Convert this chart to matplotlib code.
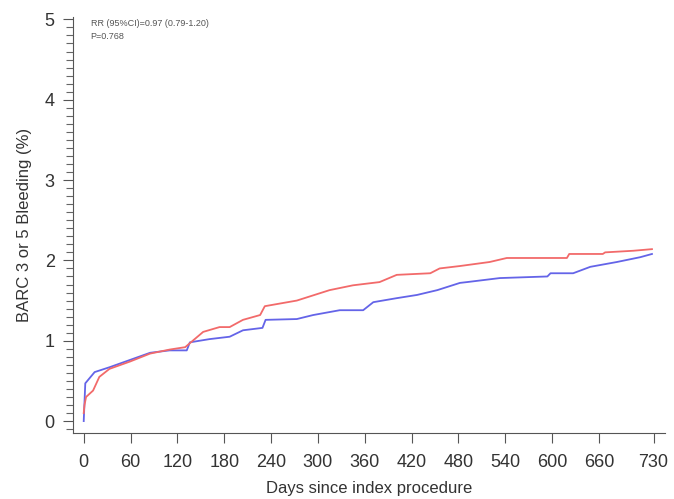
import matplotlib
matplotlib.use("Agg")
import matplotlib.pyplot as plt
from matplotlib.ticker import MultipleLocator

plt.rcParams['font.family'] = ['Liberation Sans', 'DejaVu Sans']

# Cumulative incidence (days, %)
blue_days = [0, 2, 14, 33, 59, 85, 110, 132, 136, 161, 187, 204, 229, 233, 273, 294,
             328, 358, 371, 401, 427, 453, 482, 491, 533, 594, 598, 627, 649, 683, 713, 728]
blue_pct = [0.0, 0.47, 0.61, 0.67, 0.76, 0.85, 0.88, 0.88, 0.98, 1.02, 1.05, 1.13, 1.16, 1.26, 1.27, 1.32,
            1.38, 1.38, 1.48, 1.53, 1.57, 1.63, 1.72, 1.73, 1.78, 1.80, 1.84, 1.84, 1.92, 1.98, 2.04, 2.08]

red_days = [0, 1, 3, 12, 20, 33, 59, 85, 110, 130, 153, 174, 187, 204, 226, 232, 273, 315,
            345, 379, 401, 444, 456, 482, 520, 542, 619, 622, 665, 668, 704, 728]
red_pct = [0.1, 0.2, 0.3, 0.38, 0.55, 0.65, 0.74, 0.84, 0.89, 0.92, 1.11, 1.17, 1.17, 1.26, 1.32, 1.43, 1.50, 1.63,
           1.69, 1.73, 1.82, 1.84, 1.90, 1.93, 1.98, 2.03, 2.03, 2.08, 2.08, 2.10, 2.12, 2.14]

x_ticks = [0, 60, 120, 180, 240, 300, 360, 420, 480, 540, 600, 660, 730]
y_ticks = [0, 1, 2, 3, 4, 5]

fig = plt.figure(figsize=(6.74, 4.99), dpi=100)
ax = fig.add_axes([0.108, 0.132, 0.879, 0.834])

ax.plot(blue_days, blue_pct, color='#6464e8', lw=1.3)
ax.plot(red_days, red_pct, color='#f26a6a', lw=1.3)

ax.set_xlim(-14, 745)
ax.set_ylim(-0.15, 5.03)
ax.set_xticks(x_ticks)
ax.set_yticks(y_ticks)
ax.yaxis.set_minor_locator(MultipleLocator(0.1))

for side in ['top', 'right']:
    ax.spines[side].set_visible(False)
for side in ['left', 'bottom']:
    ax.spines[side].set_color('#555555')

ax.tick_params(axis='both', which='major', direction='out', length=7, color='#555555',
               labelsize=13, labelcolor='#333333')
ax.tick_params(axis='x', which='major', pad=8)
ax.tick_params(axis='y', which='major', pad=6)
ax.tick_params(axis='y', which='minor', direction='out', length=5, width=0.8, color='#666666')

ax.set_xlabel('Days since index procedure', fontsize=12, color='#333333', labelpad=7)
ax.set_ylabel('BARC 3 or 5 Bleeding (%)', fontsize=12, color='#333333', labelpad=9)

ax.text(0.03, 0.995, 'RR (95%CI)=0.97 (0.79-1.20)', transform=ax.transAxes,
        fontsize=6.5, color='#555555', va='top')
ax.text(0.03, 0.965, 'P=0.768', transform=ax.transAxes,
        fontsize=6.5, color='#555555', va='top')

plt.savefig('out.png', dpi=100)
